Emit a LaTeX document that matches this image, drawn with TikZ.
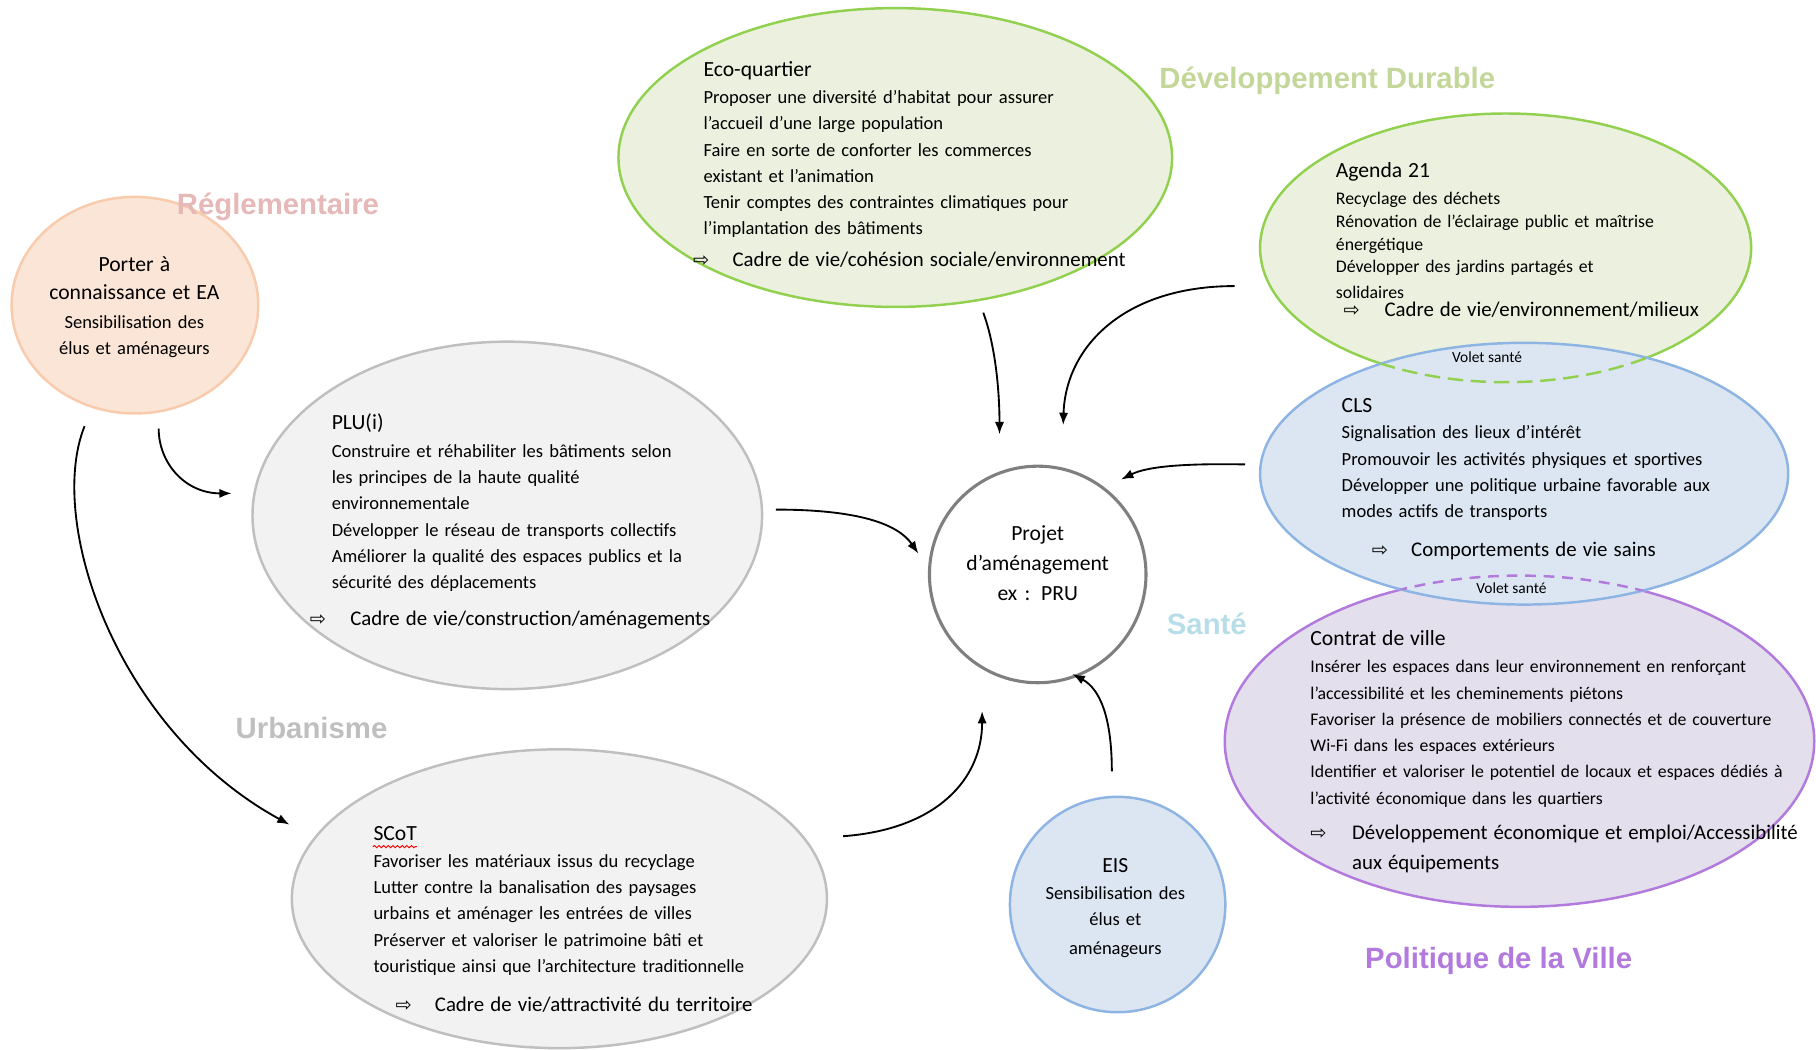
\documentclass[tikz,border=0pt]{standalone}
\usepackage{fontspec}
\setmainfont{Carlito}
\newfontfamily\titrefont{Liberation Sans}
\newfontfamily\symfont{DejaVu Sans}
\usetikzlibrary{shapes.geometric,arrows.meta,decorations.pathmorphing}
\setlength{\parindent}{0pt}

\definecolor{peche}{RGB}{251,229,214}
\definecolor{pecheTrait}{RGB}{248,203,173}
\definecolor{vertFond}{RGB}{235,241,222}
\definecolor{vertTrait}{RGB}{146,208,80}
\definecolor{bleuFond}{RGB}{220,230,242}
\definecolor{bleuTrait}{RGB}{141,180,226}
\definecolor{violetFond}{RGB}{228,223,236}
\definecolor{violetTrait}{RGB}{177,122,220}
\definecolor{grisFond}{RGB}{242,242,242}
\definecolor{grisTrait}{RGB}{191,191,191}
\definecolor{grisProjet}{RGB}{127,127,127}
\definecolor{roseTitre}{RGB}{230,184,183}
\definecolor{vertTitre}{RGB}{196,215,155}
\definecolor{grisTitre}{RGB}{191,191,191}
\definecolor{bleuTitre}{RGB}{183,222,232}
\definecolor{violetTitre}{RGB}{177,122,220}

\newcommand{\fleche}{{\symfont\fontsize{12.5}{12.5}\selectfont ⇨}}
\newcommand{\entete}[1]{{\fontsize{14}{17}\selectfont #1}}
\newcommand{\enjeu}[1]{{\fontsize{13.5}{17}\selectfont #1}}

\tikzset{every picture/.style={line width=0.75pt}}
\tikzset{
  bulle/.style={ellipse, draw, line width=1.6pt, inner sep=0pt},
  bloc/.style={anchor=base west, inner sep=0pt, text width=330pt, align=left, font=\fontsize{12}{17}\selectfont},
  centre/.style={anchor=base, inner sep=0pt, text width=150pt, align=center},
  titre/.style={inner sep=0pt, font=\titrefont\bfseries\fontsize{19}{19}\selectfont},
  volet/.style={inner sep=0pt, font=\fontsize{10}{10}\selectfont},
  lien/.style={-{Latex[length=8pt,width=6pt]}, line width=1.2pt},
}

\begin{document}
\begin{tikzpicture}[x=0.75pt,y=0.75pt,yscale=-1,xscale=1]
\useasboundingbox (0,0) rectangle (1568,906);

%Shape: Ellipse [porter]
\node[bulle, fill=peche, draw=pecheTrait, minimum width=159.75pt, minimum height=140.25pt] (porter) at (116.5,263.5) {};
%Shape: Ellipse [eco]
\node[bulle, fill=vertFond, draw=vertTrait, minimum width=358.5pt, minimum height=193.5pt] (eco) at (773,136) {};
%Shape: Ellipse [plu]
\node[bulle, fill=grisFond, draw=grisTrait, minimum width=330pt, minimum height=225pt] (plu) at (438,445) {};
%Shape: Ellipse [scot]
\node[bulle, fill=grisFond, draw=grisTrait, minimum width=346.5pt, minimum height=193.5pt] (scot) at (483,776) {};
%Shape: Circle [eis]
\node[bulle, fill=bleuFond, draw=bleuTrait, minimum width=139.5pt, minimum height=139.5pt] (eis) at (965,781) {};
%Shape: Circle [projet]
\node[bulle, fill=white, draw=grisProjet, line width=2pt, minimum width=140.25pt, minimum height=140.25pt] (proj) at (896,496) {};
%Shape: Ellipse [agenda]
\node[bulle, fill=vertFond, draw=vertTrait, minimum width=318pt, minimum height=174pt] (agenda) at (1300,214) {};
%Shape: Ellipse [contrat]
\node[bulle, fill=violetFond, draw=violetTrait, minimum width=381.75pt, minimum height=214.5pt] (contrat) at (1312,640) {};
%Shape: Ellipse [cls]
\node[bulle, fill=bleuFond, draw=bleuTrait, minimum width=342pt, minimum height=169.5pt] (cls) at (1316,409) {};

%Volet sante: dashed arcs inside cls
\begin{scope}
\clip (cls.center) ellipse [x radius=171pt, y radius=84.75pt];
\draw[vertTrait, line width=1.6pt, dash pattern=on 10pt off 5pt] (agenda.center) ellipse [x radius=159pt, y radius=87pt];
\draw[violetTrait, line width=1.6pt, dash pattern=on 7pt off 5pt] (contrat.center) ellipse [x radius=190.875pt, y radius=107.25pt];
\end{scope}

% Text Node
\node[centre, font=\fontsize{12}{18.75}\selectfont] (portertxt) at (116,234) {\entete{Porter à}\\
\entete{connaissance et EA}\\
Sensibilisation des\\[-2.25pt]
élus et aménageurs};
% Text Node
\node[bloc] (ecotxt) at (607,66) {\entete{Eco-quartier}\\[0.6pt]
Proposer une diversité d’habitat pour assurer\\
l’accueil d’une large population\\
Faire en sorte de conforter les commerces\\
existant et l’animation\\
Tenir comptes des contraintes climatiques pour\\
l’implantation des bâtiments\\[3.6pt]
\hspace*{-6.75pt}\makebox[25.5pt][l]{\fleche}\enjeu{Cadre de vie/cohésion sociale/environnement}};
% Text Node
\node[bloc, font=\fontsize{11.5}{14.6}\selectfont] (agendatxt) at (1153,153) {\entete{Agenda 21}\\[3.4pt]
Recyclage des déchets\\
Rénovation de l’éclairage public et maîtrise\\
énergétique\\
Développer des jardins partagés et\\[2.2pt]
solidaires\\[-3.2pt]
\hspace*{5pt}\makebox[26.5pt][l]{\fleche}\enjeu{Cadre de vie/environnement/milieux}};
% Text Node
\node[bloc] (clstxt) at (1158,356) {\entete{CLS}\\[0.25pt]
Signalisation des lieux d’intérêt\\
Promouvoir les activités physiques et sportives\\
Développer une politique urbaine favorable aux\\
modes actifs de transports\\[8pt]
\hspace*{19.5pt}\makebox[25.5pt][l]{\fleche}\enjeu{Comportements de vie sains}};
% Text Node
\node[bloc, font=\fontsize{11.5}{17}\selectfont] (contrattxt) at (1131,557) {\entete{Contrat de ville}\\[1pt]
Insérer les espaces dans leur environnement en renforçant\\
l’accessibilité et les cheminements piétons\\
Favoriser la présence de mobiliers connectés et de couverture\\
Wi-Fi dans les espaces extérieurs\\
Identifier et valoriser le potentiel de locaux et espaces dédiés à\\
l’activité économique dans les quartiers\\[5.9pt]
\makebox[27pt][l]{\fleche}\enjeu{Développement économique et emploi/Accessibilité}\\[2.5pt]
\hspace*{27pt}\enjeu{aux équipements}};
% Text Node
\node[bloc] (plutxt) at (286,371) {\entete{PLU(i)}\\[1pt]
Construire et réhabiliter les bâtiments selon\\
les principes de la haute qualité\\
environnementale\\
Développer le réseau de transports collectifs\\
Améliorer la qualité des espaces publics et la\\
sécurité des déplacements\\[6.6pt]
\hspace*{-14.25pt}\makebox[26.25pt][l]{\fleche}\enjeu{Cadre de vie/construction/aménagements}};
% Text Node
\node[bloc] (scottxt) at (322,726) {\entete{SCoT}\\[0.25pt]
Favoriser les matériaux issus du recyclage\\
Lutter contre la banalisation des paysages\\
urbains et aménager les entrées de villes\\
Préserver et valoriser le patrimoine bâti et\\
touristique ainsi que l’architecture traditionnelle\\[8pt]
\hspace*{14.25pt}\makebox[25.5pt][l]{\fleche}\enjeu{Cadre de vie/attractivité du territoire}};
\draw[red, line width=0.6pt, decorate, decoration={snake, amplitude=0.7pt, segment length=3pt}] (322,731) -- (360,731);
% Text Node
\node[centre, font=\fontsize{14}{19.5}\selectfont] (projtxt) at (896,466.5) {Projet\\
d’aménagement\\
ex : PRU};
% Text Node
\node[centre, font=\fontsize{12}{17.5}\selectfont] (eistxt) at (963,753) {\entete{EIS}\\[0.5pt]
Sensibilisation des\\[-1pt]
élus et\\[1.25pt]
aménageurs};
% Text Node
\node[volet] (volet1) at (1284,308) {Volet santé};
\node[volet] (volet2) at (1305,508) {Volet santé};

% Titles
\node[titre, text=roseTitre] (treg) at (240,179) {Réglementaire};
\node[titre, text=vertTitre] (tdd) at (1146,70) {Développement Durable};
\node[titre, text=grisTitre] (turb) at (269,629) {Urbanisme};
\node[titre, text=bleuTitre] (tsante) at (1042,539) {Santé};
\node[titre, text=violetTitre] (tpv) at (1294,830) {Politique de la Ville};

%Curve Lines
\coordinate (porter-out1) at (137,370);
\coordinate (plu-in) at (200,426);
\coordinate (porter-out2) at (73,368);
\coordinate (scot-in) at (250,712);
\coordinate (plu-out) at (670,440);
\coordinate (proj-w) at (793,478);
\coordinate (scot-out) at (728,722);
\coordinate (proj-sw) at (848,614);
\coordinate (eco-out) at (849,270);
\coordinate (proj-n1) at (863,375);
\coordinate (agenda-out) at (1066,247);
\coordinate (proj-n2) at (918,367);
\coordinate (cls-out) at (1075,401);
\coordinate (proj-e) at (968,414);
\coordinate (eis-out) at (960,666);
\coordinate (proj-s) at (926,582);

\draw[lien] (porter-out1) .. controls (137,400) and (160,426) .. (plu-in);
\draw[lien] (porter-out2) .. controls (40,450) and (100,630) .. (scot-in);
\draw[lien] (plu-out) .. controls (740,440) and (775,452) .. (proj-w);
\draw[lien] (scot-out) .. controls (810,716) and (848,672) .. (proj-sw);
\draw[lien] (eco-out) .. controls (860,300) and (863,340) .. (proj-n1);
\draw[lien] (agenda-out) .. controls (970,247) and (920,300) .. (proj-n2);
\draw[lien] (cls-out) .. controls (1020,400) and (990,403) .. (proj-e);
\draw[lien] (eis-out) .. controls (960,620) and (950,595) .. (proj-s);

\end{tikzpicture}
\end{document}
